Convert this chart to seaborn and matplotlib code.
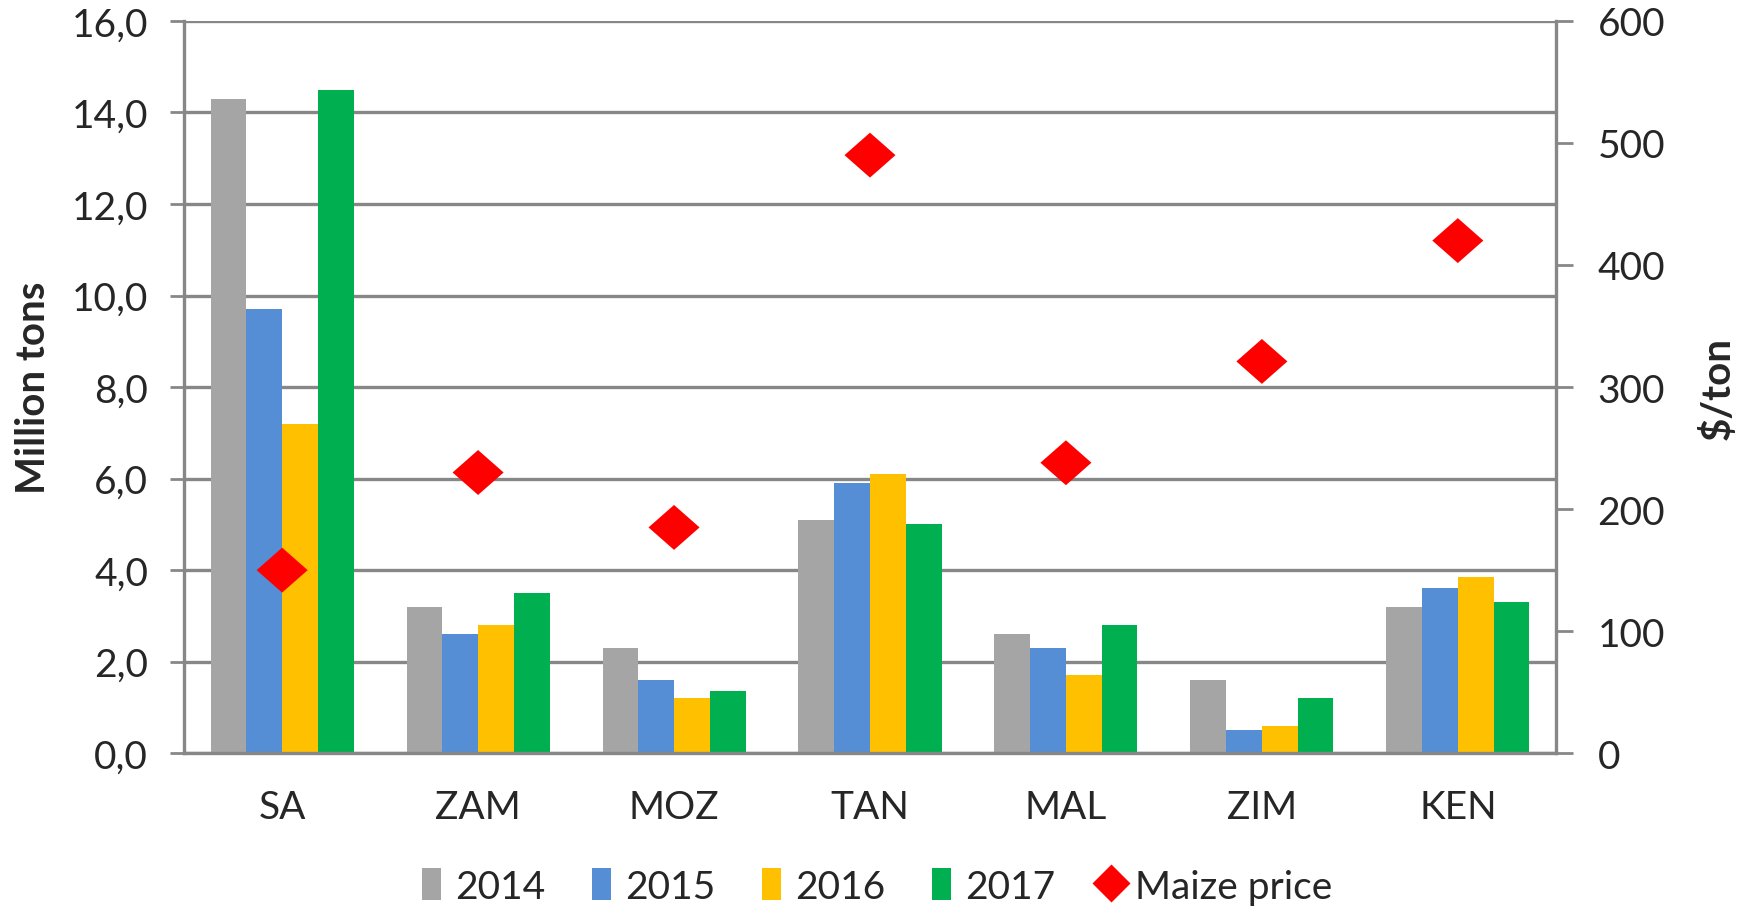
import numpy as np
import pandas as pd
import matplotlib
matplotlib.use("Agg")
import matplotlib.pyplot as plt
import seaborn as sns
from matplotlib.patches import Patch
from matplotlib.lines import Line2D
from matplotlib.ticker import FixedLocator, FuncFormatter

# ===================== DATA =====================
countries = ["SA", "ZAM", "MOZ", "TAN", "MAL", "ZIM", "KEN"]
years     = ["2014", "2015", "2016", "2017"]
prod_2014 = [14.3, 3.2, 2.3, 5.1, 2.6, 1.6, 3.2]
prod_2015 = [9.7, 2.6, 1.6, 5.9, 2.3, 0.5, 3.6]
prod_2016 = [7.2, 2.8, 1.2, 6.1, 1.7, 0.6, 3.85]
prod_2017 = [14.5, 3.5, 1.35, 5.0, 2.8, 1.2, 3.3]
maize_price = [150, 230, 185, 490, 238, 321, 420]

colors = ["#A5A5A5", "#558ED5", "#FFC000", "#00B050"]
GRID = "#878787"

df = pd.DataFrame({
    "country": countries * 4,
    "year": sum([[y] * len(countries) for y in years], []),
    "tons": prod_2014 + prod_2015 + prod_2016 + prod_2017,
})
df_price = pd.DataFrame({"country": countries, "price": maize_price})

# ===================== STYLE =====================
sns.set_style("white")
plt.rcParams["font.family"] = ["Lato", "DejaVu Sans"]

fig = plt.figure(figsize=(17.54, 9.12), dpi=100)
ax = fig.add_axes([0.105, 0.173, 0.782, 0.803])

sns.barplot(data=df, x="country", y="tons", hue="year", palette=colors,
            width=0.73, gap=0, saturation=1, ax=ax, legend=False, linewidth=0)

ax.set_ylim(0, 16)
ax.set_xlim(-0.5, len(countries) - 0.5)
ax.set_yticks(np.arange(0, 16.1, 2))
ax.yaxis.set_major_formatter(FuncFormatter(lambda v, p: f"{v:.1f}".replace(".", ",")))
ax.yaxis.grid(True, color=GRID, linewidth=2.4)
ax.set_axisbelow(True)
ax.set_xlabel("")
ax.set_ylabel("Million tons", fontsize=29, fontweight="bold", labelpad=14)

# category boundary ticks on x axis
ax.xaxis.set_minor_locator(FixedLocator(np.arange(len(countries) + 1) - 0.5))
ax.tick_params(axis="x", which="major", length=0, pad=26, labelsize=28)
ax.tick_params(axis="x", which="minor", length=10, width=2, color=GRID, direction="out")
ax.tick_params(axis="y", length=10, width=2, color=GRID, pad=16, labelsize=28,
               left=True, direction="out")

for s in ["top", "right"]:
    ax.spines[s].set_visible(False)
for s in ["left", "bottom"]:
    ax.spines[s].set_color(GRID)
    ax.spines[s].set_linewidth(2.4)

# ===================== PRICE (secondary axis) =====================
ax2 = ax.twinx()
diamond = [(-1, 0), (0, 0.88), (1, 0), (0, -0.88), (-1, 0)]
sns.scatterplot(data=df_price, x="country", y="price", marker=diamond, s=1350,
                color="#FF0000", edgecolor="none", ax=ax2, zorder=5)
ax2.set_ylim(0, 600)
ax2.set_yticks(np.arange(0, 601, 100))
ax2.set_ylabel("$/ton", fontsize=29, fontweight="bold", rotation=90, labelpad=24)
ax2.tick_params(axis="y", length=12, width=2, color=GRID, pad=18, labelsize=28,
                right=True, direction="out")
for s in ["top", "left", "bottom"]:
    ax2.spines[s].set_visible(False)
ax2.spines["right"].set_color(GRID)
ax2.spines["right"].set_linewidth(2.4)

# ===================== LEGEND =====================
handles = [Patch(facecolor=c, edgecolor="none", label=y) for c, y in zip(colors, years)]
handles.append(Line2D([], [], marker="D", color="none", markerfacecolor="#FF0000",
                      markeredgecolor="none", markersize=19, label="Maize price"))
fig.legend(handles=handles, loc="center", bbox_to_anchor=(0.5, 0.027), ncol=5,
           frameon=False, fontsize=28, handlelength=0.5, handleheight=0.9,
           handletextpad=0.35, columnspacing=1.2)

plt.savefig("out.png", dpi=100)
plt.close()
